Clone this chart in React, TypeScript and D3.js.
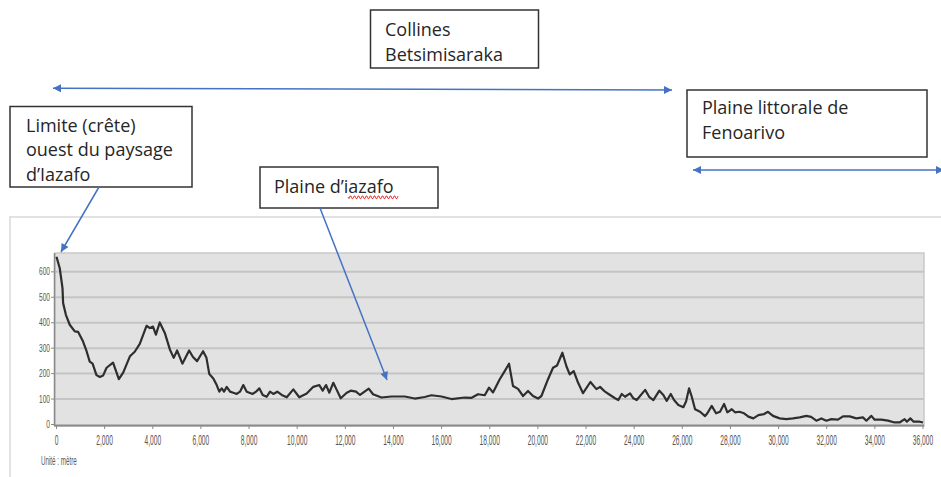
import React from "react";
import * as d3 from "d3";

// Profile distances (m) and elevations (m)
const distances = [
  0, 137, 250, 275, 390, 550, 760, 900, 1100, 1250,
  1380, 1500, 1660, 1800, 1940, 2080, 2350, 2590, 2770, 3050,
  3250, 3460, 3740, 3880, 4010, 4130, 4290, 4500, 4710, 4870,
  5010, 5230, 5510, 5670, 5840, 6090, 6230, 6349, 6515, 6656,
  6764, 6864, 6960, 7072, 7209, 7346, 7487, 7624, 7761, 7903,
  8152, 8289, 8426, 8568, 8734, 8871, 9008, 9174, 9357, 9565,
  9839, 10088, 10396, 10670, 10919, 11060, 11198, 11335, 11501, 11642,
  11809, 12058, 12224, 12444, 12610, 12973, 13152, 13501, 13916, 14469,
  14884, 15300, 15578, 15993, 16409, 16961, 17250, 17513, 17792, 17970,
  18136, 18415, 18622, 18801, 18967, 19175, 19383, 19590, 19798, 20006,
  20147, 20421, 20629, 20795, 21019, 21185, 21322, 21489, 21667, 21875,
  22182, 22432, 22582, 22790, 22998, 23206, 23342, 23484, 23621, 23829,
  23966, 24107, 24456, 24622, 24797, 25046, 25212, 25353, 25520, 25657,
  25836, 26044, 26156, 26280, 26393, 26530, 26737, 26945, 27040, 27223,
  27402, 27568, 27735, 27872, 28054, 28192, 28370, 28566, 28744, 28952,
  29160, 29400, 29560, 29767, 30045, 30324, 30598, 30876, 31155, 31350,
  31570, 31778, 31985, 32193, 32467, 32675, 32953, 33231, 33505, 33647,
  33854, 33992, 34270, 34544, 34822, 35030, 35237, 35333, 35474, 35611,
  35861, 36000,
];
const elevations = [
  659, 613, 535, 477, 431, 392, 366, 364, 327, 288,
  247, 239, 194, 187, 193, 223, 243, 178, 204, 268,
  286, 317, 388, 379, 385, 353, 401, 360, 295, 262,
  291, 239, 291, 265, 249, 288, 262, 198, 181, 155,
  129, 142, 129, 148, 129, 125, 120, 129, 155, 129,
  120, 129, 142, 116, 109, 129, 120, 129, 116, 107,
  138, 107, 122, 148, 155, 133, 155, 125, 164, 136,
  103, 125, 133, 129, 116, 141, 119, 106, 110, 110,
  102, 108, 115, 110, 100, 106, 105, 119, 115, 145,
  126, 178, 210, 239, 151, 140, 112, 132, 112, 102,
  112, 178, 223, 232, 282, 229, 197, 210, 165, 123,
  167, 139, 148, 129, 116, 103, 96, 120, 109, 122,
  103, 96, 136, 109, 96, 133, 116, 93, 120, 96,
  77, 68, 90, 142, 109, 60, 50, 33, 44, 73,
  44, 50, 81, 48, 60, 48, 50, 44, 31, 24,
  37, 41, 50, 34, 24, 21, 24, 28, 34, 30,
  15, 24, 15, 21, 19, 32, 32, 24, 28, 15,
  34, 19, 19, 15, 8, 8, 21, 11, 24, 11,
  11, 8,
];

const xTickValues = [0, 2000, 4000, 6000, 8000, 10000, 12000, 14000, 16000, 18000, 20000, 22000, 24000, 26000, 28000, 30000, 32000, 34000, 36000];
const yTickValues = [0, 100, 200, 300, 400, 500, 600];
const unitLabel = "Unité : mètre";

const boxCollines = ["Collines", "Betsimisaraka"];
const boxLittoral = ["Plaine littorale de", "Fenoarivo"];
const boxLimite = ["Limite (crête)", "ouest du paysage", "d’Iazafo"];
const boxPlaine = ["Plaine d’iazafo"];

const W = 941;
const H = 477;
const BLUE = "#4472C4";
const TXT = "#262626";

const x = d3.scaleLinear().domain([0, 36000]).range([56.5, 923]);
const y = d3.scaleLinear().domain([0, 674]).range([424.5, 253]);
const fmt = d3.format(",");

function Box({ x0, y0, w, h, lines, tx, ty, lh }: { x0: number; y0: number; w: number; h: number; lines: string[]; tx: number; ty: number; lh: number }) {
  return (
    <g>
      <rect x={x0} y={y0} width={w} height={h} fill="#fff" stroke="#333" strokeWidth={1.5} />
      {lines.map((l, i) => (
        <text key={i} x={tx} y={ty + i * lh} fontFamily="'Open Sans', sans-serif" fontSize={18} fill={TXT}>
          {l}
        </text>
      ))}
    </g>
  );
}

export default function App() {
  const pts: [number, number][] = distances.map((d, i) => [x(d), y(elevations[i])]);
  const linePath = d3.line()(pts) || "";

  // red spell-check squiggle under "iazafo"
  let squiggle = "M348,197";
  for (let sx = 348; sx < 398; sx += 2) {
    squiggle += ` L${sx + 1},${(sx - 348) % 4 === 0 ? 198.6 : 196} L${sx + 2},${(sx - 348) % 4 === 0 ? 196 : 198.6}`;
  }

  return (
    <svg width={W} height={H} style={{ position: "absolute", left: 0, top: 0, background: "#fff" }}>
      <defs>
        <marker id="ah" viewBox="0 0 10 10" refX={10} refY={5} markerUnits="userSpaceOnUse" markerWidth={10} markerHeight={8} orient="auto-start-reverse">
          <path d="M0,0 L10,5 L0,10 z" fill={BLUE} />
        </marker>
      </defs>

      {/* chart frame */}
      <rect x={10} y={217} width={945} height={280} fill="#fff" stroke="#d9d9d9" strokeWidth={1.5} />

      {/* plot area */}
      <rect x={55} y={253} width={869} height={173} fill="#e2e2e2" stroke="#c9c9c9" strokeWidth={1.5} />
      {yTickValues.filter((v) => v > 0).map((v) => (
        <line key={v} x1={55} x2={924} y1={y(v)} y2={y(v)} stroke="#c4c4c4" strokeWidth={2} />
      ))}

      {/* axes */}
      <line x1={54.5} x2={54.5} y1={253} y2={426} stroke="#8a8a8a" strokeWidth={1.5} />
      <line x1={54} x2={924} y1={425.5} y2={425.5} stroke="#8a8a8a" strokeWidth={1.8} />
      {yTickValues.map((v) => (
        <g key={v}>
          <line x1={51} x2={54} y1={y(v)} y2={y(v)} stroke="#8a8a8a" strokeWidth={1} />
          <text transform={`translate(50,${y(v) + 3.5}) scale(0.66,1)`} textAnchor="end" fontFamily="'Liberation Sans', sans-serif" fontSize={10} fill="#555">
            {String(v)}
          </text>
        </g>
      ))}
      {xTickValues.map((v) => (
        <g key={v}>
          <line x1={x(v)} x2={x(v)} y1={426} y2={429} stroke="#8a8a8a" strokeWidth={1} />
          <text transform={`translate(${x(v)},444.5) scale(0.475,1)`} textAnchor="middle" fontFamily="'Liberation Sans', sans-serif" fontSize={14} fill="#555">
            {fmt(v)}
          </text>
        </g>
      ))}
      <text transform="translate(41,465) scale(0.5,1)" fontFamily="'Liberation Sans', sans-serif" fontSize={12.5} fill="#5a5a5a">
        {unitLabel}
      </text>

      {/* profile */}
      <path d={linePath} fill="none" stroke="#2e2e2e" strokeWidth={2.2} strokeLinejoin="round" />

      {/* annotations */}
      <Box x0={370.5} y0={10} w={168} h={58} lines={boxCollines} tx={385} ty={35.5} lh={25} />
      <Box x0={687} y0={90} w={240} h={67} lines={boxLittoral} tx={702} ty={114} lh={25} />
      <Box x0={10} y0={106.5} w={182} h={80.5} lines={boxLimite} tx={26} ty={131.5} lh={24.5} />
      <Box x0={260} y0={167} w={178} h={41} lines={boxPlaine} tx={274} ty={192.7} lh={25} />
      <path d={squiggle} fill="none" stroke="#e03030" strokeWidth={0.9} />

      <line x1={53} y1={88.3} x2={672} y2={90} stroke={BLUE} strokeWidth={1.5} markerStart="url(#ah)" markerEnd="url(#ah)" />
      <line x1={693} y1={170} x2={944} y2={170} stroke={BLUE} strokeWidth={1.5} markerStart="url(#ah)" markerEnd="url(#ah)" />
      <line x1={99} y1={187} x2={61} y2={252} stroke={BLUE} strokeWidth={1.5} markerEnd="url(#ah)" />
      <line x1={320} y1={208} x2={387} y2={380} stroke={BLUE} strokeWidth={1.5} markerEnd="url(#ah)" />
    </svg>
  );
}
